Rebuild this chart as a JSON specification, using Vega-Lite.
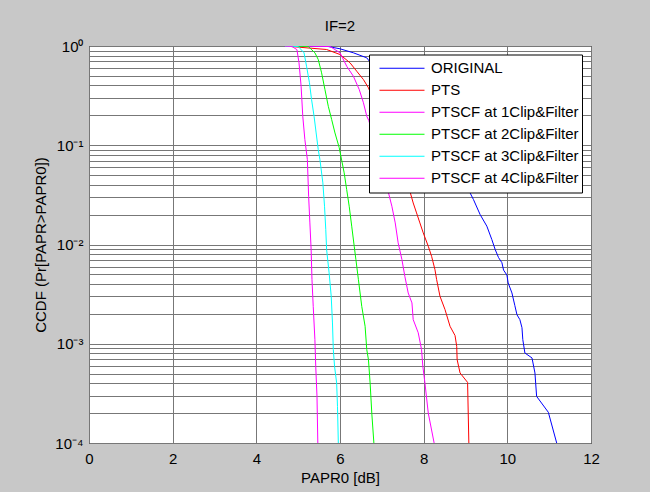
{
 "$schema": "https://vega.github.io/schema/vega-lite/v6.json",
 "width": 502,
 "height": 397,
 "autosize": {"type": "none"},
 "padding": {"left": 89, "top": 46, "right": 59, "bottom": 49},
 "background": "#c8c8c8",
 "title": {"text": "IF=2", "fontSize": 15, "fontWeight": "normal", "font": "Liberation Sans", "color": "black", "offset": 5},
 "data": {"values": [
  {"s":"ORIGINAL","x":4.68,"p":1},{"s":"ORIGINAL","x":5.68,"p":0.995},{"s":"ORIGINAL","x":6.0,"p":0.937},{"s":"ORIGINAL","x":6.32,"p":0.854},{"s":"ORIGINAL","x":6.64,"p":0.76},
  {"s":"ORIGINAL","x":9.07,"p":0.0357},{"s":"ORIGINAL","x":9.19,"p":0.0284},{"s":"ORIGINAL","x":9.35,"p":0.02},{"s":"ORIGINAL","x":9.51,"p":0.0153},{"s":"ORIGINAL","x":9.63,"p":0.0112},{"s":"ORIGINAL","x":9.71,"p":0.00889},{"s":"ORIGINAL","x":9.79,"p":0.00738},{"s":"ORIGINAL","x":9.87,"p":0.00656},{"s":"ORIGINAL","x":9.91,"p":0.00552},{"s":"ORIGINAL","x":9.99,"p":0.00492},{"s":"ORIGINAL","x":10.02,"p":0.0041},{"s":"ORIGINAL","x":10.11,"p":0.00325},{"s":"ORIGINAL","x":10.18,"p":0.00242},{"s":"ORIGINAL","x":10.23,"p":0.00196},{"s":"ORIGINAL","x":10.3,"p":0.00175},{"s":"ORIGINAL","x":10.35,"p":0.00145},{"s":"ORIGINAL","x":10.37,"p":0.0011},{"s":"ORIGINAL","x":10.42,"p":0.000807},{"s":"ORIGINAL","x":10.59,"p":0.000719},{"s":"ORIGINAL","x":10.66,"p":0.000508},{"s":"ORIGINAL","x":10.7,"p":0.000295},{"s":"ORIGINAL","x":10.98,"p":0.000204},{"s":"ORIGINAL","x":11.18,"p":0.0001},
  {"s":"PTS","x":4.68,"p":1},{"s":"PTS","x":5.68,"p":0.922},{"s":"PTS","x":6.0,"p":0.821},{"s":"PTS","x":6.24,"p":0.677},{"s":"PTS","x":6.4,"p":0.557},{"s":"PTS","x":6.56,"p":0.459},{"s":"PTS","x":6.68,"p":0.379},
  {"s":"PTS","x":7.66,"p":0.0357},{"s":"PTS","x":7.75,"p":0.0262},{"s":"PTS","x":7.83,"p":0.0208},{"s":"PTS","x":7.91,"p":0.0165},{"s":"PTS","x":7.99,"p":0.0131},{"s":"PTS","x":8.11,"p":0.0096},{"s":"PTS","x":8.19,"p":0.0076},{"s":"PTS","x":8.27,"p":0.00558},{"s":"PTS","x":8.31,"p":0.00443},{"s":"PTS","x":8.39,"p":0.00301},{"s":"PTS","x":8.51,"p":0.00221},{"s":"PTS","x":8.63,"p":0.0015},{"s":"PTS","x":8.75,"p":0.00121},{"s":"PTS","x":8.79,"p":0.000942},{"s":"PTS","x":8.8,"p":0.000692},{"s":"PTS","x":8.87,"p":0.000508},{"s":"PTS","x":9.05,"p":0.000408},{"s":"PTS","x":9.08,"p":0.0001},
  {"s":"PTSCF at 1Clip&Filter","x":4.68,"p":1},{"s":"PTSCF at 1Clip&Filter","x":5.76,"p":0.99},{"s":"PTSCF at 1Clip&Filter","x":6.0,"p":0.854},{"s":"PTSCF at 1Clip&Filter","x":6.16,"p":0.626},{"s":"PTSCF at 1Clip&Filter","x":6.32,"p":0.496},{"s":"PTSCF at 1Clip&Filter","x":6.46,"p":0.364},{"s":"PTSCF at 1Clip&Filter","x":6.56,"p":0.268},{"s":"PTSCF at 1Clip&Filter","x":6.64,"p":0.196},{"s":"PTSCF at 1Clip&Filter","x":6.69,"p":0.177},
  {"s":"PTSCF at 1Clip&Filter","x":7.12,"p":0.0386},{"s":"PTSCF at 1Clip&Filter","x":7.24,"p":0.0243},{"s":"PTSCF at 1Clip&Filter","x":7.32,"p":0.0165},{"s":"PTSCF at 1Clip&Filter","x":7.39,"p":0.0104},{"s":"PTSCF at 1Clip&Filter","x":7.48,"p":0.00705},{"s":"PTSCF at 1Clip&Filter","x":7.55,"p":0.00478},{"s":"PTSCF at 1Clip&Filter","x":7.63,"p":0.00325},{"s":"PTSCF at 1Clip&Filter","x":7.72,"p":0.00258},{"s":"PTSCF at 1Clip&Filter","x":7.75,"p":0.00175},{"s":"PTSCF at 1Clip&Filter","x":7.87,"p":0.00129},{"s":"PTSCF at 1Clip&Filter","x":7.95,"p":0.000872},{"s":"PTSCF at 1Clip&Filter","x":7.98,"p":0.000592},{"s":"PTSCF at 1Clip&Filter","x":8.03,"p":0.000403},{"s":"PTSCF at 1Clip&Filter","x":8.11,"p":0.0002},{"s":"PTSCF at 1Clip&Filter","x":8.25,"p":0.0001},
  {"s":"PTSCF at 2Clip&Filter","x":4.68,"p":1},{"s":"PTSCF at 2Clip&Filter","x":5.24,"p":0.99},{"s":"PTSCF at 2Clip&Filter","x":5.4,"p":0.854},{"s":"PTSCF at 2Clip&Filter","x":5.48,"p":0.731},{"s":"PTSCF at 2Clip&Filter","x":5.56,"p":0.537},{"s":"PTSCF at 2Clip&Filter","x":5.64,"p":0.364},{"s":"PTSCF at 2Clip&Filter","x":5.72,"p":0.247},{"s":"PTSCF at 2Clip&Filter","x":5.8,"p":0.182},{"s":"PTSCF at 2Clip&Filter","x":5.88,"p":0.133},{"s":"PTSCF at 2Clip&Filter","x":5.98,"p":0.095},{"s":"PTSCF at 2Clip&Filter","x":6.1,"p":0.0527},{"s":"PTSCF at 2Clip&Filter","x":6.16,"p":0.0357},{"s":"PTSCF at 2Clip&Filter","x":6.22,"p":0.0243},{"s":"PTSCF at 2Clip&Filter","x":6.28,"p":0.0153},{"s":"PTSCF at 2Clip&Filter","x":6.34,"p":0.0096},{"s":"PTSCF at 2Clip&Filter","x":6.38,"p":0.00705},{"s":"PTSCF at 2Clip&Filter","x":6.44,"p":0.00443},{"s":"PTSCF at 2Clip&Filter","x":6.52,"p":0.00238},{"s":"PTSCF at 2Clip&Filter","x":6.6,"p":0.0015},{"s":"PTSCF at 2Clip&Filter","x":6.64,"p":0.000872},{"s":"PTSCF at 2Clip&Filter","x":6.68,"p":0.000692},{"s":"PTSCF at 2Clip&Filter","x":6.72,"p":0.000403},{"s":"PTSCF at 2Clip&Filter","x":6.76,"p":0.0002},{"s":"PTSCF at 2Clip&Filter","x":6.81,"p":0.0001},
  {"s":"PTSCF at 3Clip&Filter","x":4.68,"p":1},{"s":"PTSCF at 3Clip&Filter","x":5.0,"p":0.99},{"s":"PTSCF at 3Clip&Filter","x":5.14,"p":0.854},{"s":"PTSCF at 3Clip&Filter","x":5.2,"p":0.626},{"s":"PTSCF at 3Clip&Filter","x":5.27,"p":0.426},{"s":"PTSCF at 3Clip&Filter","x":5.32,"p":0.289},{"s":"PTSCF at 3Clip&Filter","x":5.38,"p":0.196},{"s":"PTSCF at 3Clip&Filter","x":5.43,"p":0.133},{"s":"PTSCF at 3Clip&Filter","x":5.48,"p":0.0905},{"s":"PTSCF at 3Clip&Filter","x":5.52,"p":0.0718},{"s":"PTSCF at 3Clip&Filter","x":5.59,"p":0.0418},{"s":"PTSCF at 3Clip&Filter","x":5.63,"p":0.0243},{"s":"PTSCF at 3Clip&Filter","x":5.66,"p":0.0141},{"s":"PTSCF at 3Clip&Filter","x":5.68,"p":0.00889},{"s":"PTSCF at 3Clip&Filter","x":5.74,"p":0.00518},{"s":"PTSCF at 3Clip&Filter","x":5.79,"p":0.00301},{"s":"PTSCF at 3Clip&Filter","x":5.82,"p":0.00162},{"s":"PTSCF at 3Clip&Filter","x":5.84,"p":0.000872},{"s":"PTSCF at 3Clip&Filter","x":5.87,"p":0.000592},{"s":"PTSCF at 3Clip&Filter","x":5.92,"p":0.000403},{"s":"PTSCF at 3Clip&Filter","x":5.94,"p":0.000234},{"s":"PTSCF at 3Clip&Filter","x":5.96,"p":0.0001},
  {"s":"PTSCF at 4Clip&Filter","x":4.68,"p":1},{"s":"PTSCF at 4Clip&Filter","x":4.85,"p":0.99},{"s":"PTSCF at 4Clip&Filter","x":4.97,"p":0.92},{"s":"PTSCF at 4Clip&Filter","x":5.02,"p":0.677},{"s":"PTSCF at 4Clip&Filter","x":5.07,"p":0.394},{"s":"PTSCF at 4Clip&Filter","x":5.11,"p":0.196},{"s":"PTSCF at 4Clip&Filter","x":5.16,"p":0.114},{"s":"PTSCF at 4Clip&Filter","x":5.22,"p":0.0718},{"s":"PTSCF at 4Clip&Filter","x":5.25,"p":0.0306},{"s":"PTSCF at 4Clip&Filter","x":5.28,"p":0.0165},{"s":"PTSCF at 4Clip&Filter","x":5.31,"p":0.00889},{"s":"PTSCF at 4Clip&Filter","x":5.33,"p":0.00443},{"s":"PTSCF at 4Clip&Filter","x":5.36,"p":0.00238},{"s":"PTSCF at 4Clip&Filter","x":5.4,"p":0.0011},{"s":"PTSCF at 4Clip&Filter","x":5.42,"p":0.000592},{"s":"PTSCF at 4Clip&Filter","x":5.45,"p":0.000295},{"s":"PTSCF at 4Clip&Filter","x":5.47,"p":0.0001}
 ]},
 "mark": {"type": "line", "strokeWidth": 1, "clip": true},
 "encoding": {
  "x": {"field": "x", "type": "quantitative",
        "scale": {"domain": [0, 12], "nice": false},
        "axis": {"title": "PAPR0 [dB]", "values": [0,2,4,6,8,10,12], "labelFlush": false, "labelPadding": 8, "titlePadding": 4}},
  "y": {"field": "p", "type": "quantitative",
        "scale": {"type": "log", "domain": [0.0001, 1], "nice": false},
        "axis": {"title": "CCDF (Pr[PAPR>PAPR0])",
                 "values": [0.0001,0.0002,0.0003,0.0004,0.0005,0.0006,0.0007,0.0008,0.0009,0.001,0.002,0.003,0.004,0.005,0.006,0.007,0.008,0.009,0.01,0.02,0.03,0.04,0.05,0.06,0.07,0.08,0.09,0.1,0.2,0.3,0.4,0.5,0.6,0.7,0.8,0.9,1],
                 "labelExpr": "datum.value == 1 ? '10⁰' : datum.value == 0.1 ? '10⁻¹' : datum.value == 0.01 ? '10⁻²' : datum.value == 0.001 ? '10⁻³' : datum.value == 0.0001 ? '10⁻⁴' : ''",
                 "labelFlush": false, "labelOverlap": false, "labelPadding": 6, "titlePadding": 6}},
  "color": {"field": "s", "type": "nominal",
            "scale": {"domain": ["ORIGINAL","PTS","PTSCF at 1Clip&Filter","PTSCF at 2Clip&Filter","PTSCF at 3Clip&Filter","PTSCF at 4Clip&Filter"],
                      "range": ["#0000ff","#ff0000","#ff00ff","#00ff00","#00ffff","#ff00ff"]},
            "legend": {"title": null, "orient": "none", "legendX": 280, "legendY": 8.5,
                       "symbolType": "stroke", "symbolSize": 2025, "symbolStrokeWidth": 1,
                       "clipHeight": 21.5, "rowPadding": 0, "padding": 3,
                       "fillColor": "white", "strokeColor": "black",
                       "labelFontSize": 15, "labelOffset": 6, "symbolOffset": 7, "labelLimit": 400}},
  "order": {"field": "p", "sort": "descending"}
 },
 "config": {
  "font": "Liberation Sans",
  "view": {"fill": "white", "stroke": "black", "strokeWidth": 1},
  "axis": {"grid": true, "gridColor": "#777777", "gridWidth": 1, "gridOpacity": 1, "domain": false, "ticks": false,
           "labelFont": "Liberation Sans", "labelFontSize": 15, "labelColor": "black",
           "titleFont": "Liberation Sans", "titleFontSize": 15, "titleFontWeight": "normal", "titleColor": "black"},
  "legend": {"labelFont": "Liberation Sans", "labelColor": "black"}
 }
}
